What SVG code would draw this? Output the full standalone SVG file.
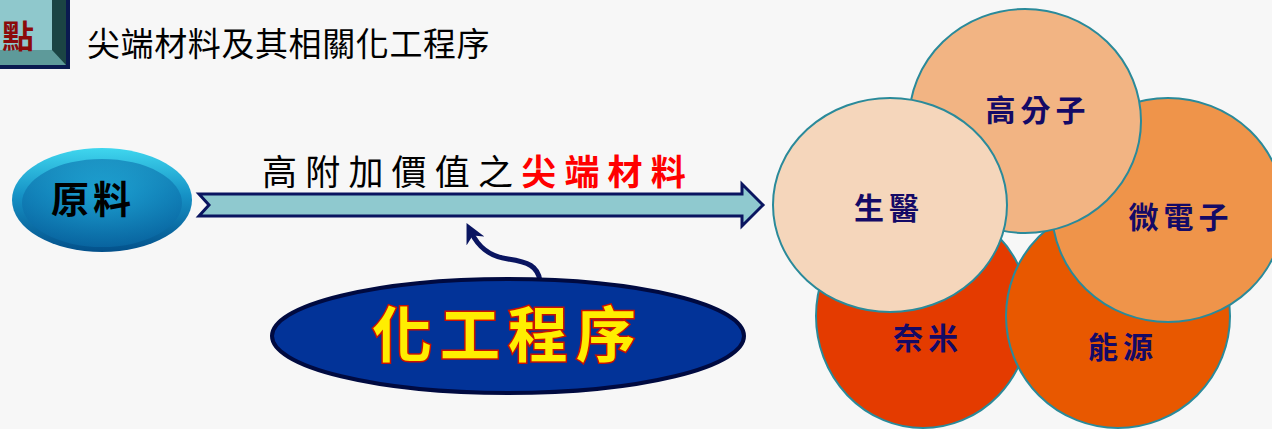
<svg xmlns="http://www.w3.org/2000/svg" width="1272" height="429" viewBox="0 0 1272 429">
<style>
.cjk{font-family:"Noto Sans CJK TC","Noto Sans CJK SC",sans-serif}
.circ{stroke:#2a8a9a;stroke-width:2}
.clbl{font-family:"Noto Sans CJK TC",sans-serif;font-weight:bold;font-size:30px;fill:#140a66;text-anchor:middle;letter-spacing:5px}
</style>
<defs>
<linearGradient id="gRaw" x1="0" y1="0" x2="0" y2="1">
<stop offset="0" stop-color="#3fd6ee"/>
<stop offset="0.45" stop-color="#1692c6"/>
<stop offset="1" stop-color="#03508a"/>
</linearGradient>
<radialGradient id="gRawIn" cx="0.5" cy="0.4" r="0.6">
<stop offset="0" stop-color="#1ea4d4"/>
<stop offset="1" stop-color="#0a6aa6"/>
</radialGradient>
<marker id="ah" viewBox="0 0 10 10" refX="5" refY="5" markerWidth="4" markerHeight="4" orient="auto">
<path d="M0,0 L10,5 L0,10 L3,5 Z" fill="#0a1560"/>
</marker>
</defs>
<rect width="1272" height="429" fill="#f7f7f7"/>

<g id="corner-box">
<rect x="-10" y="-10" width="80" height="79" fill="#0a1a50"/>
<rect x="-10" y="-10" width="76" height="75" fill="#1b4444"/>
<polygon points="-10,50 52,50 66,65 -10,65" fill="#5e9a9a"/>
<rect x="-10" y="-10" width="62" height="60" fill="#8fc8cc"/>
<text x="34" y="48" class="cjk" font-size="32" font-weight="bold" fill="#8b0a0a" text-anchor="end">點</text>
</g>

<g id="title">
<text x="87" y="56" class="cjk" font-size="33" fill="#000" letter-spacing="0.6">尖端材料及其相關化工程序</text>
</g>

<g id="connectors">
<path d="M199,194 L742,194 L742,184 L763,205 L742,226 L742,216 L199,216 L209,205 Z" fill="#8fc9cf" stroke="#0a1560" stroke-width="3" stroke-linejoin="miter"/>
<path d="M540,281 C538,266 528,262 508,259 C488,256 478,246 471,232" fill="none" stroke="#0a1560" stroke-width="5" marker-end="url(#ah)"/>
</g>

<g id="arrow-label">
<text x="262" y="185" class="cjk" font-size="35" fill="#000" letter-spacing="8.2">高附加價值之<tspan fill="#ff0000" font-weight="bold">尖端材料</tspan></text>
</g>

<g id="node-raw">
<ellipse cx="102" cy="200" rx="90" ry="52" fill="url(#gRaw)"/>
<ellipse cx="102" cy="203" rx="80" ry="44" fill="url(#gRawIn)" opacity="0.7"/>
<text x="93" y="213" class="cjk" font-size="38" font-weight="bold" fill="#000" text-anchor="middle" letter-spacing="4">原料</text>
</g>

<g id="node-process">
<ellipse cx="508" cy="336" rx="236" ry="57" fill="#023398" stroke="#000a40" stroke-width="4"/>
<text x="508" y="357" class="cjk" font-size="60" font-weight="bold" fill="#ffee00" stroke="#cc1100" stroke-width="3" paint-order="stroke" text-anchor="middle" letter-spacing="8">化工程序</text>
</g>

<g id="node-nano">
<ellipse cx="923" cy="316" rx="107" ry="112" class="circ" fill="#e43b00"/>
<text x="928" y="349" class="clbl">奈米</text>
</g>
<g id="node-energy">
<ellipse cx="1118" cy="316" rx="112" ry="112" class="circ" fill="#e85800"/>
<text x="1123" y="358" class="clbl">能源</text>
</g>
<g id="node-micro">
<ellipse cx="1168" cy="210" rx="116" ry="112" class="circ" fill="#ef944a"/>
<text x="1181" y="228" class="clbl">微電子</text>
</g>
<g id="node-polymer">
<ellipse cx="1025" cy="121" rx="116" ry="112" class="circ" fill="#f2b483"/>
<text x="1038" y="121" class="clbl">高分子</text>
</g>
<g id="node-bio">
<ellipse cx="890" cy="205" rx="117" ry="107" class="circ" fill="#f5d6bb"/>
<text x="889" y="219" class="clbl">生醫</text>
</g>
</svg>
